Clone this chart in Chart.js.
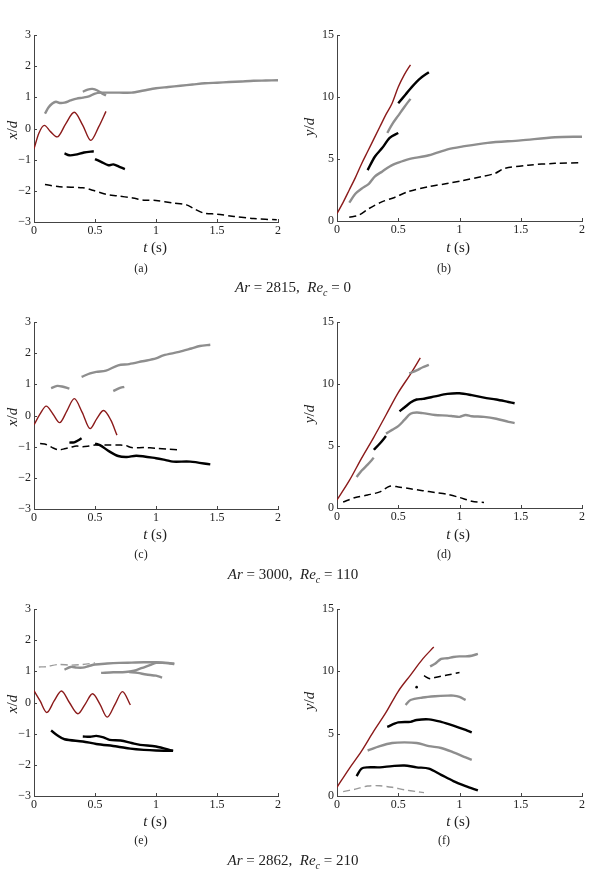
<!DOCTYPE html>
<html><head><meta charset="utf-8">
<script src="https://cdn.jsdelivr.net/npm/chart.js@4.4.0/dist/chart.umd.min.js"></script>
<style>
html,body{margin:0;padding:0;background:#fff;overflow:hidden;width:589px;height:881px;}
canvas{position:absolute;}
.t{position:absolute;font-family:"Liberation Serif","Times New Roman",serif;color:#222;transform:translate(-50%,-50%);white-space:nowrap;}
.ax{font-size:15px;}
.rot{transform:translate(-50%,-50%) rotate(-90deg);}
.cap{font-size:12px;}
.main{font-size:15px;}
</style></head><body>
<canvas id="pa"></canvas><canvas id="pb"></canvas>
<canvas id="pc"></canvas><canvas id="pd"></canvas>
<canvas id="pe"></canvas><canvas id="pf"></canvas>

<div class="t ax" style="left:155px;top:247px"><i>t</i> (s)</div>
<div class="t ax" style="left:458px;top:247px"><i>t</i> (s)</div>
<div class="t ax" style="left:155px;top:534px"><i>t</i> (s)</div>
<div class="t ax" style="left:458px;top:534px"><i>t</i> (s)</div>
<div class="t ax" style="left:155px;top:821px"><i>t</i> (s)</div>
<div class="t ax" style="left:458px;top:821px"><i>t</i> (s)</div>

<div class="t ax rot" style="left:12px;top:130px"><i>x</i>/<i>d</i></div>
<div class="t ax rot" style="left:309px;top:127px"><i>y</i>/<i>d</i></div>
<div class="t ax rot" style="left:12px;top:417px"><i>x</i>/<i>d</i></div>
<div class="t ax rot" style="left:309px;top:414px"><i>y</i>/<i>d</i></div>
<div class="t ax rot" style="left:12px;top:704px"><i>x</i>/<i>d</i></div>
<div class="t ax rot" style="left:309px;top:701px"><i>y</i>/<i>d</i></div>

<div class="t cap" style="left:141px;top:268px">(a)</div>
<div class="t cap" style="left:444px;top:268px">(b)</div>
<div class="t cap" style="left:141px;top:554px">(c)</div>
<div class="t cap" style="left:444px;top:554px">(d)</div>
<div class="t cap" style="left:141px;top:840px">(e)</div>
<div class="t cap" style="left:444px;top:840px">(f)</div>

<div class="t main" style="left:293px;top:288px"><i>Ar</i> = 2815,&nbsp; <i>Re</i><sub style="font-size:10px"><i>c</i></sub> = 0</div>
<div class="t main" style="left:293px;top:575px"><i>Ar</i> = 3000,&nbsp; <i>Re</i><sub style="font-size:10px"><i>c</i></sub> = 110</div>
<div class="t main" style="left:293px;top:861px"><i>Ar</i> = 2862,&nbsp; <i>Re</i><sub style="font-size:10px"><i>c</i></sub> = 210</div>

<script>
// ---------- tick labels ----------
const xTickLabels = ['0','0.5','1','1.5','2'];
const xPosTickLabels = ['\u22123','\u22122','\u22121','0','1','2','3'];
const yPosTickLabels = ['0','5','10','15'];

// ---------- panel (a) ----------
const aRedT = [0,0.04,0.085,0.135,0.19,0.26,0.33,0.40,0.465,0.53,0.59];
const aRedY = [-0.65,-0.15,0.1,-0.1,-0.27,0.15,0.52,0.1,-0.38,0.05,0.55];
const aGray1T = [0.09,0.12,0.15,0.18,0.21,0.25,0.3,0.35,0.4,0.45,0.5,0.55,0.6,0.7,0.8,0.9,1.0,1.1,1.2,1.3,1.4,1.5,1.6,1.7,1.8,1.9,2.0];
const aGray1Y = [0.48,0.68,0.8,0.86,0.82,0.83,0.9,0.96,0.99,1.03,1.12,1.15,1.15,1.15,1.15,1.22,1.29,1.33,1.37,1.41,1.45,1.47,1.49,1.51,1.53,1.54,1.55];
const aGray2T = [0.4,0.44,0.48,0.52,0.56,0.59];
const aGray2Y = [1.18,1.25,1.27,1.22,1.12,1.06];
const aBlk1T = [0.25,0.29,0.34,0.41,0.49];
const aBlk1Y = [-0.8,-0.86,-0.84,-0.77,-0.73];
const aBlk2T = [0.5,0.55,0.61,0.65,0.7,0.745];
const aBlk2Y = [-0.98,-1.07,-1.18,-1.15,-1.23,-1.3];
const aDashT = [0.09,0.21,0.4,0.48,0.59,0.68,0.81,0.9,1.0,1.14,1.25,1.31,1.39,1.5,1.64,1.8,1.99];
const aDashY = [-1.8,-1.87,-1.9,-1.98,-2.11,-2.16,-2.23,-2.3,-2.31,-2.39,-2.45,-2.57,-2.71,-2.75,-2.82,-2.89,-2.93];

// ---------- panel (b) ----------
const bRedT = [0,0.05,0.1,0.15,0.2,0.25,0.3,0.35,0.4,0.45,0.5,0.55,0.6];
const bRedY = [0.6,1.5,2.5,3.5,4.6,5.6,6.6,7.6,8.6,9.5,10.8,11.8,12.6];
const bBlk1T = [0.25,0.31,0.37,0.43,0.5];
const bBlk1Y = [4.1,5.2,5.9,6.7,7.1];
const bBlk2T = [0.5,0.56,0.61,0.68,0.75];
const bBlk2Y = [9.5,10.2,10.8,11.5,12.0];
const bGray1T = [0.41,0.45,0.5,0.55,0.6];
const bGray1Y = [7.1,7.8,8.5,9.2,9.85];
const bGray2T = [0.1,0.15,0.2,0.26,0.31,0.37,0.43,0.5,0.58,0.75,0.91,1.02,1.23,1.5,1.78,2.0];
const bGray2Y = [1.48,2.2,2.6,3.0,3.6,4.0,4.4,4.7,4.97,5.3,5.8,6.0,6.3,6.5,6.75,6.8];
const bDashT = [0.1,0.18,0.26,0.37,0.47,0.58,0.75,0.91,1.02,1.18,1.29,1.37,1.56,1.78,2.0];
const bDashY = [0.3,0.48,1.0,1.56,1.9,2.37,2.77,3.04,3.25,3.58,3.84,4.25,4.5,4.65,4.7];

// ---------- panel (c) ----------
const cRedT = [0,0.05,0.1,0.155,0.21,0.27,0.33,0.395,0.46,0.515,0.57,0.63,0.68];
const cRedY = [-0.3,0.05,0.3,0.05,-0.23,0.15,0.54,0.1,-0.42,-0.1,0.16,-0.15,-0.63];
const cGray1T = [0.14,0.19,0.23,0.29];
const cGray1Y = [0.88,0.95,0.93,0.86];
const cGray2T = [0.65,0.7,0.74];
const cGray2Y = [0.78,0.88,0.92];
const cGray3T = [0.39,0.46,0.51,0.59,0.69,0.78,0.89,1.0,1.06,1.19,1.29,1.36,1.445];
const cGray3Y = [1.24,1.35,1.4,1.44,1.61,1.65,1.74,1.83,1.93,2.04,2.15,2.23,2.27];
const cBlk1T = [0.29,0.33,0.36,0.39];
const cBlk1Y = [-0.87,-0.86,-0.8,-0.73];
const cBlk2T = [0.5,0.54,0.62,0.69,0.76,0.84,1.0,1.08,1.14,1.28,1.445];
const cBlk2Y = [-0.9,-0.95,-1.16,-1.3,-1.33,-1.29,-1.37,-1.43,-1.48,-1.48,-1.57];
const cDashT = [0.05,0.1,0.15,0.2,0.25,0.3,0.35,0.4,0.45,0.5,0.6,0.7,0.75,0.8,0.9,1.0,1.1,1.19];
const cDashY = [-0.9,-0.93,-1.03,-1.1,-1.07,-1.02,-0.98,-1.0,-0.98,-0.95,-0.95,-0.95,-0.96,-1.03,-1.03,-1.05,-1.08,-1.1];

// ---------- panel (d) ----------
const dRedT = [0,0.1,0.2,0.3,0.4,0.5,0.6,0.68];
const dRedY = [0.65,2.2,4.0,5.7,7.5,9.3,10.8,12.1];
const dGray1T = [0.16,0.2,0.25,0.3];
const dGray1Y = [2.5,3.0,3.5,4.05];
const dBlk1T = [0.3,0.35,0.4];
const dBlk1Y = [4.7,5.2,5.8];
const dGray2T = [0.4,0.45,0.5,0.55,0.6,0.65,0.7,0.8,0.9,0.95,1.0,1.05,1.1,1.2,1.3,1.4,1.45];
const dGray2Y = [6.0,6.3,6.6,7.1,7.6,7.7,7.65,7.5,7.45,7.4,7.35,7.5,7.4,7.35,7.2,6.95,6.85];
const dBlk2T = [0.51,0.55,0.6,0.65,0.7,0.8,0.9,1.0,1.1,1.2,1.3,1.4,1.45];
const dBlk2Y = [7.8,8.1,8.5,8.75,8.8,9.0,9.2,9.25,9.1,8.9,8.75,8.55,8.45];
const dGray3T = [0.59,0.65,0.7,0.75];
const dGray3Y = [10.85,11.1,11.35,11.55];
const dDashT = [0.05,0.15,0.25,0.35,0.43,0.5,0.6,0.7,0.8,0.9,1.0,1.1,1.2];
const dDashY = [0.48,0.85,1.05,1.3,1.75,1.7,1.55,1.4,1.25,1.1,0.85,0.55,0.45];

// ---------- panel (e) ----------
const eRedT = [0,0.05,0.105,0.165,0.225,0.29,0.36,0.42,0.48,0.54,0.6,0.665,0.725,0.79];
const eRedY = [0.38,0.05,-0.32,0.05,0.37,0.0,-0.36,-0.05,0.28,-0.05,-0.47,-0.05,0.35,-0.08];
const eGrayDashT = [0.04,0.1,0.2,0.3,0.4,0.5];
const eGrayDashY = [1.14,1.15,1.22,1.2,1.22,1.27];
const eGrayAT = [0.25,0.3,0.35,0.4,0.45,0.5,0.6,0.7,0.8,0.9,1.0,1.1,1.15];
const eGrayAY = [1.05,1.14,1.12,1.12,1.17,1.22,1.25,1.27,1.28,1.29,1.29,1.27,1.25];
const eGrayBT = [0.55,0.65,0.75,0.82,0.88,0.95,1.0,1.05,1.1,1.15];
const eGrayBY = [0.95,0.97,0.98,1.02,1.1,1.2,1.27,1.27,1.26,1.23];
const eGrayCT = [0.78,0.85,0.92,1.0,1.05];
const eGrayCY = [0.98,0.95,0.9,0.86,0.8];
const eBlk1T = [0.14,0.19,0.25,0.4,0.51,0.68,0.79,0.9,1.0,1.14];
const eBlk1Y = [-0.9,-1.05,-1.18,-1.25,-1.33,-1.41,-1.48,-1.52,-1.54,-1.55];
const eBlk2T = [0.4,0.46,0.51,0.57,0.62,0.71,0.8,0.87,1.0,1.14];
const eBlk2Y = [-1.09,-1.1,-1.07,-1.12,-1.2,-1.22,-1.3,-1.36,-1.41,-1.55];

// ---------- panel (f) ----------
const fRedT = [0,0.1,0.2,0.3,0.4,0.5,0.6,0.7,0.79];
const fRedY = [0.7,2.2,3.6,5.2,6.7,8.4,9.7,11.0,11.95];
const fGray1T = [0.76,0.8,0.85,0.9,0.95,1.0,1.05,1.1,1.15];
const fGray1Y = [10.4,10.6,11.0,11.05,11.15,11.2,11.2,11.25,11.4];
const fDashT = [0.71,0.76,0.8,0.9,1.0];
const fDashY = [9.65,9.4,9.5,9.7,9.9];
const fDotT = [0.65];
const fDotY = [8.73];
const fGray2T = [0.56,0.6,0.7,0.8,0.9,0.95,1.0,1.05];
const fGray2Y = [7.3,7.7,7.9,8.0,8.05,8.05,7.95,7.7];
const fBlk1T = [0.41,0.5,0.6,0.65,0.75,0.85,0.95,1.05,1.1];
const fBlk1Y = [5.55,5.9,5.95,6.1,6.15,5.95,5.65,5.3,5.1];
const fGray3T = [0.25,0.35,0.45,0.55,0.65,0.75,0.85,0.95,1.05,1.1];
const fGray3Y = [3.65,4.0,4.25,4.3,4.25,4.0,3.85,3.5,3.1,2.9];
const fBlk2T = [0.16,0.2,0.25,0.35,0.45,0.55,0.65,0.75,0.85,0.95,1.05,1.15];
const fBlk2Y = [1.6,2.2,2.3,2.3,2.4,2.45,2.3,2.2,1.7,1.2,0.8,0.45];
const fGrayDashT = [0.05,0.15,0.25,0.35,0.45,0.55,0.65,0.71];
const fGrayDashY = [0.35,0.55,0.8,0.82,0.7,0.5,0.35,0.27];

// ---------- helpers ----------
const pts = (t, y) => t.map((v, i) => ({x: v, y: y[i]}));
const RED = '#8b1a1a', GRAY = '#8e8e8e', BLACK = '#000';
const base = {pointRadius: 0, fill: false, borderCapStyle: 'butt', borderJoinStyle: 'round'};
const red  = (t, y) => ({...base, data: pts(t, y), borderColor: RED, borderWidth: 1.4, cubicInterpolationMode: 'monotone'});
const gray = (t, y) => ({...base, data: pts(t, y), borderColor: GRAY, borderWidth: 2.4, tension: 0.3});
const blk  = (t, y) => ({...base, data: pts(t, y), borderColor: BLACK, borderWidth: 2.4, tension: 0.3});
const dash = (t, y) => ({...base, data: pts(t, y), borderColor: BLACK, borderWidth: 1.5, borderDash: [7, 4], tension: 0.3});
const gdash = (t, y) => ({...base, data: pts(t, y), borderColor: '#9a9a9a', borderWidth: 1.4, borderDash: [7, 4], tension: 0.3});
const dot = (t, y) => ({...base, data: pts(t, y), pointRadius: 1.3, pointBackgroundColor: BLACK, pointBorderWidth: 0, showLine: false});

const inwardTicks = {
  id: 'inwardTicks',
  afterDraw(chart) {
    const {ctx, chartArea: a, scales: {x, y}} = chart;
    ctx.save();
    ctx.strokeStyle = '#444';
    ctx.lineWidth = 1;
    x.ticks.forEach(t => {
      const p = Math.round(x.getPixelForValue(t.value)) + 0.5;
      ctx.beginPath(); ctx.moveTo(p, a.bottom); ctx.lineTo(p, a.bottom - 3); ctx.stroke();
    });
    y.ticks.forEach(t => {
      const p = Math.round(y.getPixelForValue(t.value)) + 0.5;
      ctx.beginPath(); ctx.moveTo(a.left, p); ctx.lineTo(a.left + 3, p); ctx.stroke();
    });
    ctx.restore();
  }
};

const FONT = {family: '"Liberation Serif","Times New Roman",serif', size: 12};

function panel(id, area, yAxisW, padRight, yMin, yMax, yStep, yLabels, datasets) {
  const cv = document.getElementById(id);
  const left = area.L - yAxisW;
  const top = area.T - 12;
  const w = area.R - left + padRight;
  const h = area.B - top + 45;
  cv.width = w; cv.height = h;
  cv.style.left = left + 'px'; cv.style.top = top + 'px';
  cv.style.width = w + 'px'; cv.style.height = h + 'px';
  new Chart(cv, {
    type: 'line',
    data: {datasets},
    options: {
      responsive: false, animation: false, devicePixelRatio: 1,
      layout: {padding: {left: 0, top: 12, right: padRight, bottom: 0}},
      plugins: {legend: {display: false}, tooltip: {enabled: false}},
      scales: {
        x: {
          type: 'linear', min: 0, max: 2,
          afterFit: s => { s.height = 45; },
          afterBuildTicks: s => { s.ticks = xTickLabels.map(v => ({value: parseFloat(v)})); },
          ticks: {font: FONT, color: '#222', padding: 2, maxRotation: 0, autoSkip: false,
                  callback: (v, i) => xTickLabels[i]},
          grid: {display: true, drawOnChartArea: false, drawTicks: false},
          border: {display: true, color: '#444', width: 1}
        },
        y: {
          type: 'linear', min: yMin, max: yMax,
          afterFit: s => { s.width = yAxisW; },
          afterBuildTicks: s => { s.ticks = yLabels.map(v => ({value: parseFloat(v.replace('\u2212', '-'))})); },
          ticks: {font: FONT, color: '#222', padding: 3, autoSkip: false,
                  callback: (v, i) => yLabels[i]},
          grid: {display: true, drawOnChartArea: false, drawTicks: false},
          border: {display: true, color: '#444', width: 1}
        }
      }
    },
    plugins: [inwardTicks]
  });
}

panel('pa', {L: 34, R: 278, T: 35, B: 222}, 34, 7, -3, 3, 1, xPosTickLabels, [
  dash(aDashT, aDashY), gray(aGray1T, aGray1Y), gray(aGray2T, aGray2Y),
  blk(aBlk1T, aBlk1Y), blk(aBlk2T, aBlk2Y), red(aRedT, aRedY)
]);
panel('pb', {L: 337, R: 582, T: 35, B: 221}, 37, 6, 0, 15, 5, yPosTickLabels, [
  dash(bDashT, bDashY), gray(bGray2T, bGray2Y), gray(bGray1T, bGray1Y),
  blk(bBlk1T, bBlk1Y), blk(bBlk2T, bBlk2Y), red(bRedT, bRedY)
]);
panel('pc', {L: 34, R: 278, T: 322, B: 509}, 34, 7, -3, 3, 1, xPosTickLabels, [
  dash(cDashT, cDashY), gray(cGray1T, cGray1Y), gray(cGray2T, cGray2Y), gray(cGray3T, cGray3Y),
  blk(cBlk1T, cBlk1Y), blk(cBlk2T, cBlk2Y), red(cRedT, cRedY)
]);
panel('pd', {L: 337, R: 582, T: 322, B: 508}, 37, 6, 0, 15, 5, yPosTickLabels, [
  dash(dDashT, dDashY), gray(dGray1T, dGray1Y), gray(dGray2T, dGray2Y), gray(dGray3T, dGray3Y),
  blk(dBlk1T, dBlk1Y), blk(dBlk2T, dBlk2Y), red(dRedT, dRedY)
]);
panel('pe', {L: 34, R: 278, T: 609, B: 796}, 34, 7, -3, 3, 1, xPosTickLabels, [
  gdash(eGrayDashT, eGrayDashY), gray(eGrayAT, eGrayAY), gray(eGrayBT, eGrayBY), gray(eGrayCT, eGrayCY),
  blk(eBlk1T, eBlk1Y), blk(eBlk2T, eBlk2Y), red(eRedT, eRedY)
]);
panel('pf', {L: 337, R: 582, T: 609, B: 796}, 37, 6, 0, 15, 5, yPosTickLabels, [
  gdash(fGrayDashT, fGrayDashY), gray(fGray1T, fGray1Y), gray(fGray2T, fGray2Y), gray(fGray3T, fGray3Y),
  dash(fDashT, fDashY), dot(fDotT, fDotY),
  blk(fBlk1T, fBlk1Y), blk(fBlk2T, fBlk2Y), red(fRedT, fRedY)
]);
</script>
</body></html>
